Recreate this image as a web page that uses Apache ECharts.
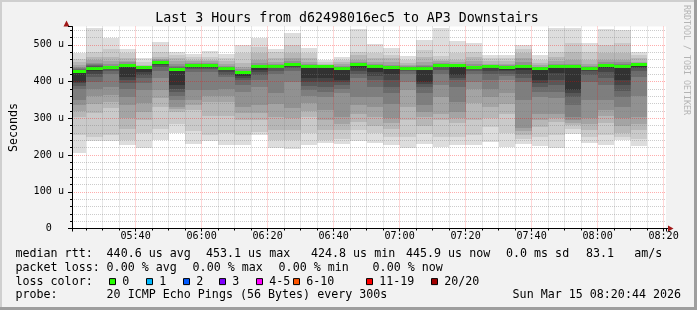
<!DOCTYPE html>
<html>
<head>
<meta charset="utf-8">
<script src="https://cdn.jsdelivr.net/npm/echarts@6/dist/echarts.min.js"></script>
<style>
html,body{margin:0;padding:0;background:#f2f2f2;}
#chart{width:697px;height:310px;}
</style>
</head>
<body>
<div id="chart"></div>
<script>
// ---------------- data ----------------
const titleText = 'Last 3 Hours from d62498016ec5 to AP3 Downstairs';
// end time of each 5-minute step (the step covers the preceding 5 minutes)
const stepEnds = ['05:25','05:30','05:35','05:40','05:45','05:50','05:55','06:00','06:05','06:10',
  '06:15','06:20','06:25','06:30','06:35','06:40','06:45','06:50','06:55','07:00',
  '07:05','07:10','07:15','07:20','07:25','07:30','07:35','07:40','07:45','07:50',
  '07:55','08:00','08:05','08:10','08:15'];
// median rtt per step (microseconds)
const median = [427,437,439,445,438.6,453.1,433,444,444,437,
  424.8,442,442,446,442,441,436,446,442,439,
  437,436,445,443,439,441,439,440,436,442,
  440,437,445,440,445.9];
// 20 sorted ping rtts per step (microseconds)
const pings = [
  [206,254,304,320,336,350,381,388,395,400,428,430,432,434,436,440,446,452,462,477],
  [239,250,315,340,360,380,400,413,420,428,439,441,443,445,447,451,459,466,481,547],
  [239,255,327,345,363,386,420,428,433,436,439,439.5,440,441,443,447,455,468,490,520],
  [227,241,272,300,336,359,380,395,405,413,445,445.5,446,447,449,452,457,465,477,488],
  [220,259,295,318,341,377,395,409,418,425,438.6,438.8,439,439.5,440,441,443,446,452,463],
  [242,270,331,355,377,410,430,440,446,449,452.5,453,454,455,457,459,462,468,481,508],
  [261,285,318,325,332,350,362,372,380,392,435,436,438,440,443,447,455,463,472,481],
  [230,265,322,335,350,377,425,433,438,441,444,444.5,445,446,448,451,455,460,466,474],
  [238,254,305,345,360,377,425,433,438,441,444,444.5,445,446,447,450,455,460,468,483],
  [227,259,305,345,362,381,413,418,425,433,438,438.5,439,440,441,443,448,455,465,474],
  [227,254,295,315,332,372,390,404,409,414,425,426,427,428,430,434,440,450,477,499],
  [254,262,295,315,336,386,405,418,425,431,442,442.5,443,444,446,450,459,477,495,520],
  [220,240,268,304,340,368,420,430,436,439,442,442.5,443,444,445,447,452,463,481,490],
  [216,240,268,300,327,400,430,438,441,443,446,446.5,447.5,449,451,455,463,477,499,531],
  [227,260,304,320,341,360,377,388,398,409,442,442.5,443,444,445,447,452,463,477,491],
  [233,240,268,295,322,359,372,386,398,409,441,441.5,442,442.5,443,444,446,448,452,458],
  [230,245,268,285,304,368,380,390,398,405,436,436.5,437,438,440,443,447,452,458,466],
  [239,268,290,313,335,359,410,422,430,437,446,446.5,447,448,449,452,460,472,481,542],
  [233,259,280,304,330,359,385,404,415,425,442,442.5,443,444,446,449,454,463,477,502],
  [227,250,270,286,300,340,370,386,405,422,439,439.5,440,441,442,445,452,463,472,491],
  [220,250,295,332,377,400,420,428,432,435,437,437.5,438,439,440,442,445,450,458,469],
  [229,258,280,304,318,336,370,386,393,400,436,437,438,440,442,446,454,468,486,514],
  [221,250,295,313,359,390,420,432,439,442,445.5,446,447,448,449,451,455,460,470,545],
  [227,250,286,300,318,345,385,404,410,418,442.5,443,443.5,444,445,447,452,459,477,510],
  [227,255,295,341,381,400,420,428,433,436,439,439.5,440,441,443,447,455,468,481,506],
  [235,277,300,331,359,380,404,422,430,436,441,441.2,441.5,442,443,445,449,455,463,472],
  [221,260,313,340,368,404,415,422,428,432,439,439.5,440,441,442,444,449,455,463,472],
  [229,245,255,265,275,350,400,410,420,432,440,440.5,441.5,443,446,452,463,477,490,499],
  [224,250,277,295,313,359,372,386,395,404,436,436.5,437,438,439,441,444,450,458,472],
  [220,255,290,300,313,354,372,390,405,423,442,442.5,443,444,445,448,455,467,481,545],
  [258,270,281,288,295,304,335,359,368,377,440.5,441,442,443,445,448,459,481,504,545],
  [233,250,268,285,300,350,400,418,428,434,437,437.5,438,439,440,443,449,459,481,504],
  [227,255,286,305,322,350,390,409,425,438,445,445.5,446,447,449,452,459,477,499,542],
  [240,248,259,280,300,332,359,375,390,404,440.5,441,442,444,447,452,459,477,504,540],
  [224,245,268,285,304,360,413,428,436,441,446,446.2,446.5,447,448,450,454,463,472,481]
];
const axisStart = '05:20:44';
const axisEnd = '08:20:44';
const yMax = 550;
const rttStats = ['440.6 us avg','453.1 us max','424.8 us min','445.9 us now','0.0 ms sd','83.1','am/s'];
const lossStats = ['0.00 % avg','0.00 % max','0.00 % min','0.00 % now'];
const lossLabels = ['0','1','2','3','4-5','6-10','11-19','20/20'];
const probeText = '20 ICMP Echo Pings (56 Bytes) every 300s';
const stampText = 'Sun Mar 15 08:20:44 2026';

// ---------------- styles / layout ----------------
const MONO = '"DejaVu Sans Mono", monospace';
const SMOKE = ['#dddddd','#cacaca','#b7b7b7','#a4a4a4','#919191','#7e7e7e','#6b6b6b','#585858','#454545','#323232'];
const MEDIAN_COLOR = '#26ff00';
const lossColors = ['#26ff00','#00b8ff','#0059ff','#7e00ff','#ff00ff','#ff5500','#ff0000','#a10000'];
const lossBoxX = [109,146,183,219,256,293,366,431];
const rttStatX = [106.6,206,311,406,506,586,634.3];
const lossStatX = [106.6,192.6,278.6,372.6];
const legendY = [253.8,267.6,281.6,295.2];

function toMin(s) {
  const p = s.split(':').map(Number);
  return p[0] * 60 + p[1] + (p[2] || 0) / 60;
}
function pad(n) { return (n < 10 ? '0' : '') + n; }
const STEP = 5;

function renderSmoke(params, api) {
  const i = params.dataIndex;
  const tEnd = api.value(0);
  const tStart = tEnd - STEP;
  const p = pings[i];
  const kids = [];
  for (let k = 0; k < 10; k++) {
    const a = api.coord([tStart, p[19 - k]]);
    const b = api.coord([tEnd, p[k]]);
    const x0 = Math.round(a[0]), x1 = Math.round(b[0]);
    const y0 = Math.round(a[1]), y1 = Math.round(b[1]);
    kids.push({type: 'rect', shape: {x: x0, y: y0, width: x1 - x0, height: Math.max(1, y1 - y0)},
      style: {fill: SMOKE[k]}});
  }
  const m0 = api.coord([tStart, api.value(1)]);
  const m1 = api.coord([tEnd, api.value(1)]);
  const mx0 = Math.round(m0[0]), mx1 = Math.round(m1[0]);
  kids.push({type: 'rect', shape: {x: mx0, y: Math.round(m0[1] - 1.5), width: mx1 - mx0, height: 3},
    style: {fill: MEDIAN_COLOR}});
  return {type: 'group', children: kids};
}

function txt(x, y, s, size, extra) {
  return Object.assign({type: 'text', x: x, y: y, silent: true,
    style: {text: s, font: size + 'px ' + MONO, fill: '#000', align: 'left', verticalAlign: 'middle'}}, extra || {});
}

const graphics = [
  {type: 'rect', shape: {x: 0, y: 0, width: 697, height: 2}, style: {fill: '#cfcfcf'}, silent: true},
  {type: 'rect', shape: {x: 0, y: 0, width: 2, height: 310}, style: {fill: '#cfcfcf'}, silent: true},
  {type: 'rect', shape: {x: 694, y: 0, width: 3, height: 310}, style: {fill: '#9e9e9e'}, silent: true},
  {type: 'rect', shape: {x: 0, y: 307, width: 697, height: 3}, style: {fill: '#9e9e9e'}, silent: true},
  // axis arrows
  {type: 'line', shape: {x1: 666, y1: 228.5, x2: 669, y2: 228.5}, style: {stroke: '#000', lineWidth: 1}, silent: true},
  {type: 'polygon', shape: {points: [[668, 225.5], [668, 231.5], [673.5, 228.5]]}, style: {fill: '#a01818'}, silent: true},
  {type: 'polygon', shape: {points: [[63.5, 26.5], [69.5, 26.5], [66.5, 20.5]]}, style: {fill: '#a01818'}, silent: true},
  // watermark
  {type: 'text', x: 686.5, y: 5, rotation: -Math.PI / 2, silent: true,
   style: {text: 'RRDTOOL / TOBI OETIKER', font: '8.3px ' + MONO, fill: '#b4b4b4', align: 'left', verticalAlign: 'middle'}},
  // title
  txt(347, 18.8, titleText, 13.27, {style: {text: titleText, font: '13.27px ' + MONO, fill: '#000', align: 'center', verticalAlign: 'middle'}}),
  // legend rows
  txt(15.5, legendY[0], 'median rtt:', 11.66),
  txt(15.5, legendY[1], 'packet loss:', 11.66),
  txt(15.5, legendY[2], 'loss color:', 11.66),
  txt(15.5, legendY[3], 'probe:', 11.66),
  txt(106.6, legendY[3], probeText, 11.66),
  txt(512.6, legendY[3], stampText, 11.66)
];
rttStats.forEach((s, i) => graphics.push(txt(rttStatX[i], legendY[0], s, 11.66)));
lossStats.forEach((s, i) => graphics.push(txt(lossStatX[i], legendY[1], s, 11.66)));
lossLabels.forEach((s, i) => {
  graphics.push({type: 'rect', silent: true, shape: {x: lossBoxX[i] + 0.5, y: legendY[2] - 3, width: 6, height: 6},
    style: {fill: lossColors[i], stroke: '#000', lineWidth: 1}});
  graphics.push(txt(lossBoxX[i] + 13.3, legendY[2], s, 11.66));
});

const chart = echarts.init(document.getElementById('chart'), null, {renderer: 'canvas'});
chart.setOption({
  backgroundColor: '#f2f2f2',
  animation: false,
  grid: {left: 66, right: 31, top: 26.5, bottom: 81.5, show: true, backgroundColor: '#ffffff', borderWidth: 0},
  xAxis: {
    type: 'value', min: toMin(axisStart), max: toMin(axisEnd),
    minInterval: 20, maxInterval: 20, splitNumber: 9, z: 3,
    axisLine: {show: true, onZero: false, lineStyle: {color: '#000', width: 1}},
    axisTick: {show: true, length: 3, lineStyle: {color: '#000'}},
    minorTick: {show: true, splitNumber: 4, length: 2, lineStyle: {color: '#000'}},
    splitLine: {show: true, showMinLine: false, showMaxLine: false,
      lineStyle: {color: 'rgba(255,0,0,0.32)', type: [1, 1], width: 1}},
    minorSplitLine: {show: true, lineStyle: {color: 'rgba(120,120,120,0.38)', type: [1, 1], width: 1}},
    axisLabel: {
      margin: 3, color: '#000', fontFamily: MONO, fontSize: 10.1,
      formatter: function (v) {
        const r = Math.round(v);
        if (Math.abs(v - r) > 1e-6 || r % 20 !== 0) return '';
        return pad(Math.floor(r / 60)) + ':' + pad(r % 60);
      }
    }
  },
  yAxis: {
    type: 'value', min: 0, max: yMax, interval: 100, z: 3,
    name: 'Seconds', nameLocation: 'middle', nameGap: 52, nameRotate: 90,
    nameTextStyle: {fontFamily: MONO, fontSize: 11.66, color: '#000'},
    axisLine: {show: true, lineStyle: {color: '#000', width: 1}},
    axisTick: {show: true, length: 4, lineStyle: {color: '#000'}},
    minorTick: {show: true, splitNumber: 5, length: 2, lineStyle: {color: '#000'}},
    splitLine: {show: true, showMinLine: false, showMaxLine: false,
      lineStyle: {color: 'rgba(255,0,0,0.32)', type: [1, 1], width: 1}},
    minorSplitLine: {show: true, lineStyle: {color: 'rgba(120,120,120,0.38)', type: [1, 1], width: 1}},
    axisLabel: {
      margin: 8, color: '#000', fontFamily: MONO, fontSize: 10.1,
      formatter: function (v) {
        if (v === 0) return '0  ';
        if (v > 500) return '';
        return v + ' u';
      }
    }
  },
  series: [{
    type: 'custom',
    clip: true,
    data: stepEnds.map((t, i) => [toMin(t), median[i]]),
    encode: {x: 0, y: 1},
    renderItem: renderSmoke
  }],
  graphic: graphics
});
</script>
</body>
</html>
